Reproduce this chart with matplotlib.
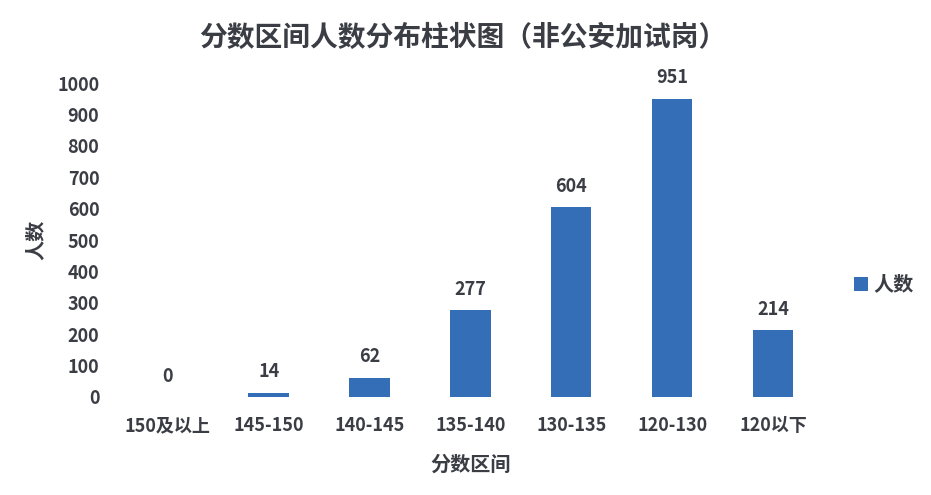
import matplotlib
matplotlib.use("Agg")
import matplotlib.pyplot as plt
from matplotlib.patches import Patch

plt.rcParams['font.family'] = ['Noto Sans CJK SC', 'DejaVu Sans']

categories = ["150及以上", "145-150", "140-145", "135-140", "130-135", "120-130", "120以下"]
counts = [0, 14, 62, 277, 604, 951, 214]
series_name = "人数"
title = "分数区间人数分布柱状图（非公安加试岗）"
xlabel = "分数区间"
ylabel = "人数"
yticks = list(range(0, 1001, 100))

bar_color = "#336EB7"
text_color = "#3A3D44"

fig = plt.figure(figsize=(9.31, 4.95), dpi=100)
ax = fig.add_axes([0.126, 0.198, 0.7585, 0.634])

x = list(range(len(categories)))
ax.bar(x, counts, width=0.4, color=bar_color)
ax.set_xlim(-0.5, len(categories) - 0.5)
ax.set_ylim(0, 1000)
ax.set_yticks(yticks)
ax.set_yticklabels([str(v) for v in yticks], fontsize=13, fontweight='bold', color=text_color)
ax.set_xticks(x)
ax.set_xticklabels(categories, fontsize=13, fontweight='bold', color=text_color)
ax.tick_params(axis='both', length=0)
ax.tick_params(axis='y', pad=13)
ax.tick_params(axis='x', pad=14)
for s in ax.spines.values():
    s.set_visible(False)

for xi, v in zip(x, counts):
    ax.annotate(str(v), (xi, v), xytext=(0, 8), textcoords='offset points',
                ha='center', va='bottom', fontsize=13, fontweight='bold', color=text_color)

fig.text(0.4975, 0.923, title, ha='center', va='center', fontsize=20, fontweight='bold', color=text_color)
fig.text(0.505, 0.063, xlabel, ha='center', va='center', fontsize=14.5, fontweight='bold', color=text_color)
fig.text(0.038, 0.515, ylabel, ha='center', va='center', rotation=90, fontsize=14.5, fontweight='bold', color=text_color)

handle = Patch(facecolor=bar_color, label=series_name)
leg = fig.legend(handles=[handle], loc='center left', bbox_to_anchor=(0.898, 0.426),
                 frameon=False, fontsize=14.5, handlelength=0.7, handleheight=0.7, handletextpad=0.25)
for t in leg.get_texts():
    t.set_color(text_color)
    t.set_fontweight('bold')

fig.savefig("out.png", dpi=100)
